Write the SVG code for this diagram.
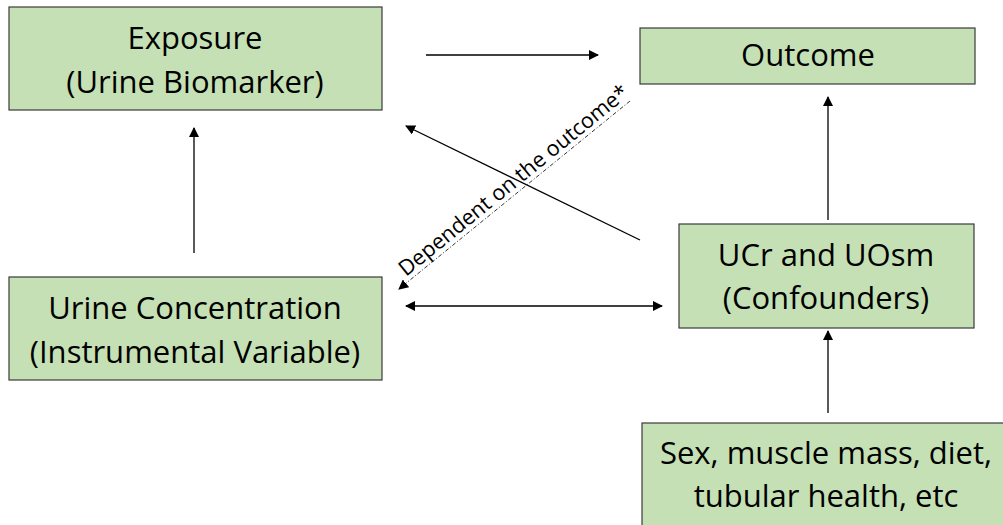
<svg xmlns="http://www.w3.org/2000/svg" width="1003" height="525" viewBox="0 0 1003 525">
<style>
.box{fill:#c5e0b4;stroke:#3a3a3a;stroke-width:1.2}
.t{font-family:"Open Sans","Noto Sans",sans-serif;font-size:31px;fill:#000;text-anchor:middle}
.c{stroke:#000;stroke-width:1.3;fill:none}
.d{stroke:#333;stroke-width:1;fill:none;stroke-dasharray:4 2 1 2}
.lbl{font-family:"Open Sans","Noto Sans",sans-serif;font-size:21.5px;fill:#000}
</style>
<defs>
<marker id="ah" viewBox="0 0 10 10" refX="9" refY="5" markerWidth="10" markerHeight="10" markerUnits="userSpaceOnUse" orient="auto-start-reverse">
<path d="M0,0 L10,5 L0,10 Z" fill="#000"/>
</marker>
</defs>
<rect width="1003" height="525" fill="#fff"/>
<g id="exposure">
<rect class="box" x="9" y="7" width="373" height="103"/>
<text class="t" x="195" y="49">Exposure</text>
<text class="t" x="195" y="93">(Urine Biomarker)</text>
</g>
<g id="outcome">
<rect class="box" x="640" y="28" width="335" height="56"/>
<text class="t" x="808" y="66">Outcome</text>
</g>
<g id="urine-conc">
<rect class="box" x="9" y="277" width="373" height="103"/>
<text class="t" x="195" y="319">Urine Concentration</text>
<text class="t" x="195" y="363">(Instrumental Variable)</text>
</g>
<g id="confounders">
<rect class="box" x="679" y="224" width="295" height="104"/>
<text class="t" x="826" y="266">UCr and UOsm</text>
<text class="t" x="826" y="309">(Confounders)</text>
</g>
<g id="factors">
<rect class="box" x="642" y="423" width="370" height="110"/>
<text class="t" x="826" y="464">Sex, muscle mass, diet,</text>
<text class="t" x="826" y="507">tubular health, etc</text>
</g>
<g id="connectors">
<line class="c" x1="426" y1="55" x2="598" y2="55" marker-end="url(#ah)"/>
<line class="c" x1="194" y1="253" x2="194" y2="128" marker-end="url(#ah)"/>
<line class="c" x1="406" y1="306" x2="662" y2="306" marker-start="url(#ah)" marker-end="url(#ah)"/>
<line class="c" x1="828" y1="220" x2="828" y2="97" marker-end="url(#ah)"/>
<line class="c" x1="828" y1="413" x2="828" y2="331" marker-end="url(#ah)"/>
<line class="c" x1="640" y1="240" x2="406" y2="126" marker-end="url(#ah)"/>
<line class="d" x1="630" y1="101" x2="399" y2="289" marker-end="url(#ah)"/>
<text class="lbl" transform="translate(406,277) rotate(-39.1)">Dependent on the outcome*</text>
</g>
</svg>
